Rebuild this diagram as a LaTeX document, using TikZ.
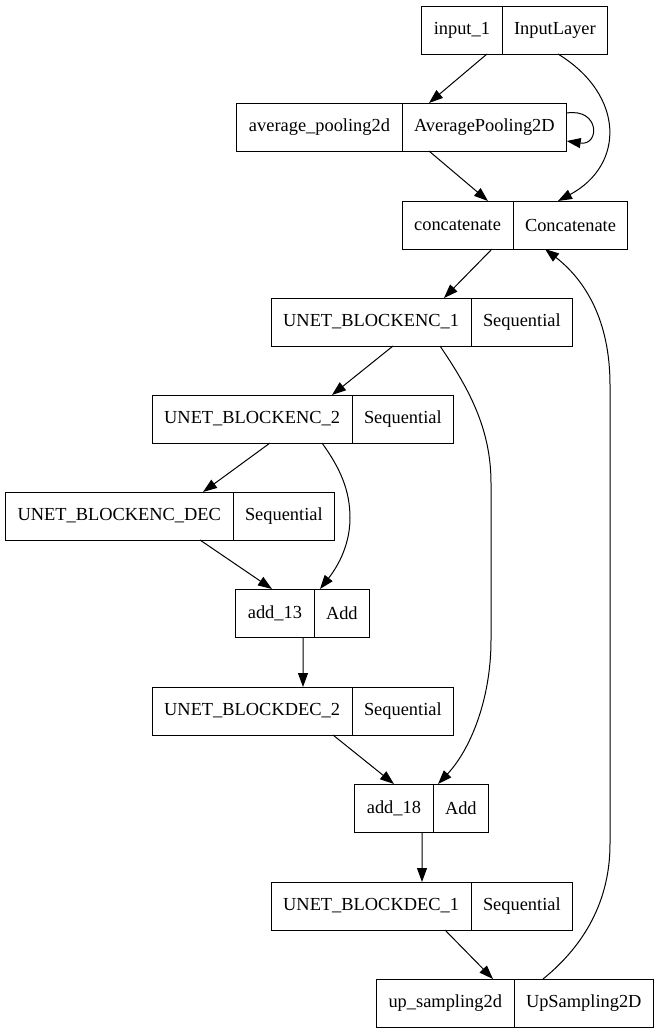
\documentclass[tikz,border=0pt]{standalone}
\usepackage{fontspec}
\setmainfont{Liberation Serif}
\usetikzlibrary{positioning,arrows.meta}
\newcommand{\layerfont}{\fontsize{18.4bp}{22bp}\selectfont}
\tikzset{
  field/.style={draw, line width=1bp, minimum height=48bp, inner xsep=12bp,
    inner ysep=0pt, outer sep=0pt, font=\layerfont},
  edge/.style={line width=1bp, -{Triangle[length=14bp,width=10bp]}}
}
\begin{document}
\begin{tikzpicture}[x=1bp,y=-1bp]
    \useasboundingbox (0,0) rectangle (659,1033);
    % layers: name field | type field
    \node[field, anchor=east] (in1) at (502,30) {input\_1};
    \node[field, right=0pt of in1] (in1t) {InputLayer};
    \node[field, anchor=east] (avgp) at (402,127) {average\_pooling2d};
    \node[field, right=0pt of avgp] (avgpt) {AveragePooling2D};
    \node[field, anchor=east] (concat) at (513,225) {concatenate};
    \node[field, right=0pt of concat] (concatt) {Concatenate};
    \node[field, anchor=east] (enc1) at (471,322) {UNET\_BLOCKENC\_1};
    \node[field, right=0pt of enc1] (enc1t) {Sequential};
    \node[field, anchor=east] (enc2) at (352,419) {UNET\_BLOCKENC\_2};
    \node[field, right=0pt of enc2] (enc2t) {Sequential};
    \node[field, anchor=east] (encdec) at (233,516) {UNET\_BLOCKENC\_DEC};
    \node[field, right=0pt of encdec] (encdect) {Sequential};
    \node[field, anchor=east] (add13) at (314,613) {add\_13};
    \node[field, right=0pt of add13] (add13t) {Add};
    \node[field, anchor=east] (dec2) at (352,711) {UNET\_BLOCKDEC\_2};
    \node[field, right=0pt of dec2] (dec2t) {Sequential};
    \node[field, anchor=east] (add18) at (433,808) {add\_18};
    \node[field, right=0pt of add18] (add18t) {Add};
    \node[field, anchor=east] (dec1) at (471,906) {UNET\_BLOCKDEC\_1};
    \node[field, right=0pt of dec1] (dec1t) {Sequential};
    \node[field, anchor=east] (upsamp) at (514,1003) {up\_sampling2d};
    \node[field, right=0pt of upsamp] (upsampt) {UpSampling2D};
    % connections
    \draw[edge] ([xshift=-15bp]in1.south east) -- ([xshift=27bp]avgp.north east);
    \draw[edge] ([xshift=56bp]in1.south east) .. controls (625,95) and (625,165) .. ([xshift=45bp]concat.north east);
    \draw[edge] ([yshift=14bp]avgpt.east) .. controls (600,108) and (600,146) .. ([yshift=-14bp]avgpt.east);
    \draw[edge] ([xshift=27bp]avgp.south east) -- ([xshift=-25bp]concat.north east);
    \draw[edge] ([xshift=-21bp]concat.south east) -- ([xshift=-27bp]enc1.north east);
    \draw[edge] ([xshift=-78bp]enc1.south east) -- ([xshift=-20bp]enc2.north east);
    \draw[edge] ([xshift=-31bp]enc1.south east) .. controls (470,390) and (491,430) .. (491,483)
        -- (491,640) .. controls (491,700) and (470,750) .. ([xshift=5bp]add18.north east);
    \draw[edge] ([xshift=-82bp]enc2.south east) -- ([xshift=-30bp]encdec.north east);
    \draw[edge] ([xshift=-30bp]enc2.south east) .. controls (340,468) and (350,490) .. (350,518)
        .. controls (350,548) and (335,570) .. ([xshift=6bp]add13.north east);
    \draw[edge] ([xshift=-33bp]encdec.south east) -- ([xshift=-42bp]add13.north east);
    \draw[edge] ([xshift=-11bp]add13.south east) -- ([xshift=-49bp]dec2.north east);
    \draw[edge] ([xshift=-19bp]dec2.south east) -- ([xshift=-39bp]add18.north east);
    \draw[edge] ([xshift=-11bp]add18.south east) -- ([xshift=-49bp]dec1.north east);
    \draw[edge] ([xshift=-26bp]dec1.south east) -- ([xshift=-21bp]upsamp.north east);
    \draw[edge] ([xshift=29bp]upsamp.north east) .. controls (585,945) and (610,900) .. (610,844)
        -- (610,385) .. controls (610,320) and (585,280) .. ([xshift=32bp]concat.south east);
\end{tikzpicture}
\end{document}
